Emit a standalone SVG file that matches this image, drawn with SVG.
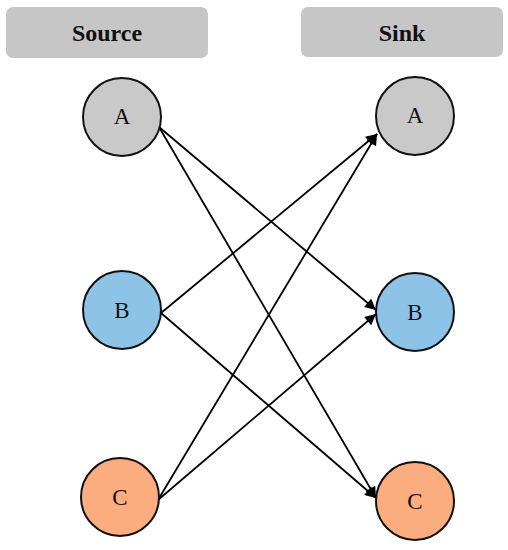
<svg xmlns="http://www.w3.org/2000/svg" width="508" height="550" viewBox="0 0 508 550">
<style>
.hdr{fill:#c6c6c6}
.hdrt{font-family:"Liberation Serif","DejaVu Serif",serif;font-weight:bold;font-size:24px;text-anchor:middle;fill:#111}
.node{stroke:#111;stroke-width:2}
.lbl{font-family:"Liberation Serif","DejaVu Serif",serif;font-size:23px;text-anchor:middle;fill:#111}
.edge{stroke:#000;stroke-width:1.8;fill:none;marker-end:url(#arr)}
</style>
<defs>
<marker id="arr" viewBox="0 0 10 10" refX="10" refY="5" markerWidth="13" markerHeight="11" markerUnits="userSpaceOnUse" orient="auto">
<path d="M0,0 L10,5 L0,10 z" fill="#000"/>
</marker>
</defs>
<g id="header-source"><rect class="hdr" x="6" y="7" width="202" height="51" rx="7"/><text class="hdrt" x="107" y="41">Source</text></g>
<g id="header-sink"><rect class="hdr" x="301" y="7" width="202" height="50" rx="7"/><text class="hdrt" x="402" y="41">Sink</text></g>
<g id="connectors">
<line class="edge" x1="159" y1="127" x2="376" y2="310"/>
<line class="edge" x1="159" y1="127" x2="376" y2="498"/>
<line class="edge" x1="161" y1="313" x2="377" y2="134"/>
<line class="edge" x1="161" y1="313" x2="376" y2="498"/>
<line class="edge" x1="158" y1="500" x2="377" y2="134"/>
<line class="edge" x1="158" y1="500" x2="376" y2="314"/>
</g>
<g id="src-A"><circle class="node" cx="122" cy="117" r="39" fill="#c9c9c9"/><text class="lbl" x="122" y="124">A</text></g>
<g id="src-B"><circle class="node" cx="122" cy="310" r="39" fill="#8ec3e8"/><text class="lbl" x="122" y="318">B</text></g>
<g id="src-C"><circle class="node" cx="120" cy="497" r="39" fill="#fbad80"/><text class="lbl" x="120" y="505">C</text></g>
<g id="sink-A"><circle class="node" cx="415" cy="116" r="39" fill="#c9c9c9"/><text class="lbl" x="415" y="123">A</text></g>
<g id="sink-B"><circle class="node" cx="415" cy="312" r="39" fill="#8ec3e8"/><text class="lbl" x="415" y="320">B</text></g>
<g id="sink-C"><circle class="node" cx="415" cy="501" r="39" fill="#fbad80"/><text class="lbl" x="415" y="509">C</text></g>
</svg>
